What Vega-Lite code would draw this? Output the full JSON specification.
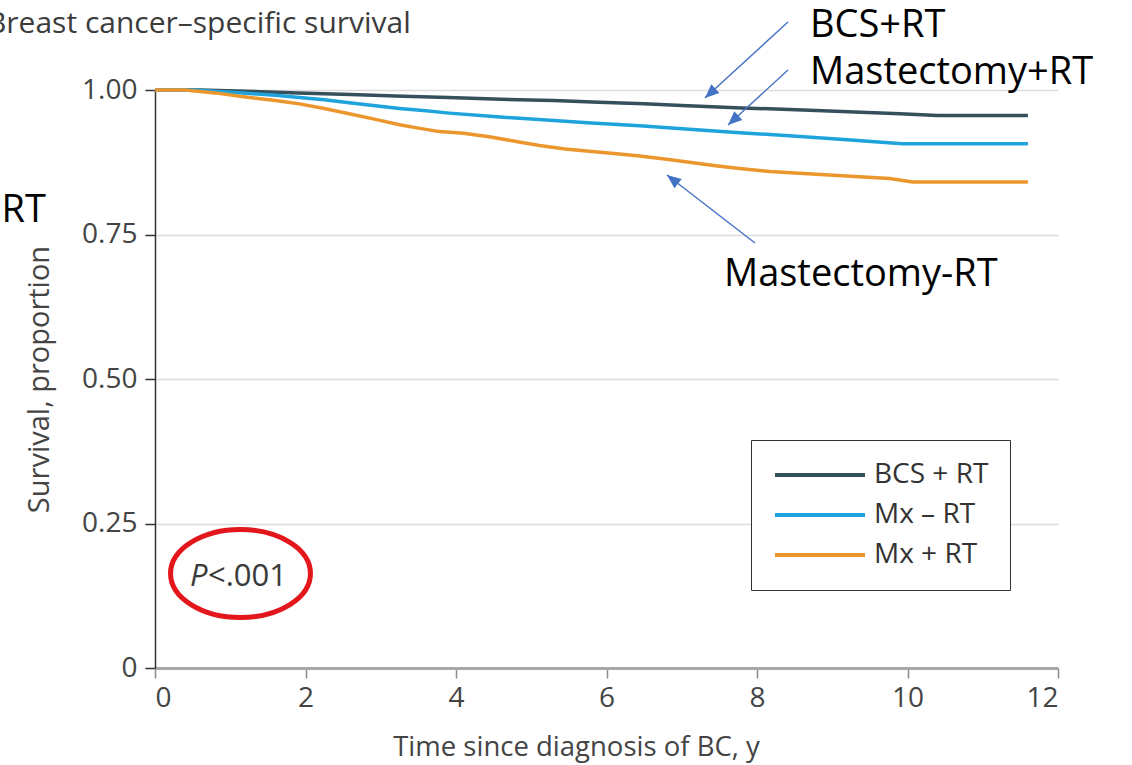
{
  "$schema": "https://vega.github.io/schema/vega-lite/v6.json",
  "autosize": "none",
  "width": 903,
  "height": 578,
  "padding": {"left": 155, "top": 90, "right": 74, "bottom": 97},
  "background": "white",
  "config": {
    "view": {"stroke": null},
    "font": "Open Sans"
  },
  "datasets": {
    "curves": [
      {"group": "BCS + RT", "t": 0, "s": 1.0},
      {"group": "BCS + RT", "t": 0.6, "s": 1.0},
      {"group": "BCS + RT", "t": 1.2, "s": 0.998},
      {"group": "BCS + RT", "t": 1.9, "s": 0.995},
      {"group": "BCS + RT", "t": 2.6, "s": 0.992},
      {"group": "BCS + RT", "t": 3.3, "s": 0.989},
      {"group": "BCS + RT", "t": 3.9, "s": 0.987},
      {"group": "BCS + RT", "t": 4.6, "s": 0.984},
      {"group": "BCS + RT", "t": 5.3, "s": 0.982},
      {"group": "BCS + RT", "t": 5.9, "s": 0.979},
      {"group": "BCS + RT", "t": 6.5, "s": 0.976},
      {"group": "BCS + RT", "t": 7.0, "s": 0.973},
      {"group": "BCS + RT", "t": 7.8, "s": 0.969},
      {"group": "BCS + RT", "t": 8.7, "s": 0.965},
      {"group": "BCS + RT", "t": 9.3, "s": 0.962},
      {"group": "BCS + RT", "t": 9.9, "s": 0.959},
      {"group": "BCS + RT", "t": 10.4, "s": 0.956},
      {"group": "BCS + RT", "t": 11.6, "s": 0.956},
      {"group": "Mx – RT", "t": 0, "s": 1.0},
      {"group": "Mx – RT", "t": 0.5, "s": 1.0},
      {"group": "Mx – RT", "t": 0.9, "s": 0.997},
      {"group": "Mx – RT", "t": 1.26, "s": 0.994},
      {"group": "Mx – RT", "t": 1.6, "s": 0.991},
      {"group": "Mx – RT", "t": 1.92, "s": 0.987},
      {"group": "Mx – RT", "t": 2.25, "s": 0.983},
      {"group": "Mx – RT", "t": 2.58, "s": 0.978},
      {"group": "Mx – RT", "t": 2.9, "s": 0.973},
      {"group": "Mx – RT", "t": 3.25, "s": 0.968},
      {"group": "Mx – RT", "t": 3.6, "s": 0.964},
      {"group": "Mx – RT", "t": 3.91, "s": 0.960},
      {"group": "Mx – RT", "t": 4.5, "s": 0.954},
      {"group": "Mx – RT", "t": 5.1, "s": 0.949},
      {"group": "Mx – RT", "t": 5.8, "s": 0.943},
      {"group": "Mx – RT", "t": 6.44, "s": 0.938},
      {"group": "Mx – RT", "t": 7.1, "s": 0.932},
      {"group": "Mx – RT", "t": 7.77, "s": 0.926},
      {"group": "Mx – RT", "t": 8.43, "s": 0.921},
      {"group": "Mx – RT", "t": 9.2, "s": 0.914},
      {"group": "Mx – RT", "t": 9.93, "s": 0.907},
      {"group": "Mx – RT", "t": 10.5, "s": 0.907},
      {"group": "Mx – RT", "t": 11.6, "s": 0.907},
      {"group": "Mx + RT", "t": 0, "s": 1.0},
      {"group": "Mx + RT", "t": 0.4, "s": 1.0},
      {"group": "Mx + RT", "t": 0.8, "s": 0.995},
      {"group": "Mx + RT", "t": 1.2, "s": 0.988},
      {"group": "Mx + RT", "t": 1.6, "s": 0.982},
      {"group": "Mx + RT", "t": 1.92, "s": 0.976},
      {"group": "Mx + RT", "t": 2.25, "s": 0.968},
      {"group": "Mx + RT", "t": 2.58, "s": 0.959},
      {"group": "Mx + RT", "t": 2.9, "s": 0.950},
      {"group": "Mx + RT", "t": 3.25, "s": 0.940},
      {"group": "Mx + RT", "t": 3.5, "s": 0.934},
      {"group": "Mx + RT", "t": 3.78, "s": 0.928},
      {"group": "Mx + RT", "t": 4.1, "s": 0.925},
      {"group": "Mx + RT", "t": 4.44, "s": 0.919},
      {"group": "Mx + RT", "t": 4.8, "s": 0.911},
      {"group": "Mx + RT", "t": 5.11, "s": 0.904},
      {"group": "Mx + RT", "t": 5.45, "s": 0.898},
      {"group": "Mx + RT", "t": 5.77, "s": 0.894},
      {"group": "Mx + RT", "t": 6.1, "s": 0.890},
      {"group": "Mx + RT", "t": 6.44, "s": 0.886},
      {"group": "Mx + RT", "t": 6.8, "s": 0.880},
      {"group": "Mx + RT", "t": 7.1, "s": 0.875},
      {"group": "Mx + RT", "t": 7.45, "s": 0.869},
      {"group": "Mx + RT", "t": 7.77, "s": 0.864},
      {"group": "Mx + RT", "t": 8.17, "s": 0.859},
      {"group": "Mx + RT", "t": 8.56, "s": 0.856},
      {"group": "Mx + RT", "t": 8.96, "s": 0.853},
      {"group": "Mx + RT", "t": 9.36, "s": 0.850},
      {"group": "Mx + RT", "t": 9.76, "s": 0.847},
      {"group": "Mx + RT", "t": 10.07, "s": 0.841},
      {"group": "Mx + RT", "t": 10.5, "s": 0.841},
      {"group": "Mx + RT", "t": 11.6, "s": 0.841}
    ],
    "notes": [
      {"label": "Breast cancer–specific survival", "kind": "heading", "t": -2.233, "s": 1.0986},
      {"label": "BCS+RT", "kind": "callout", "t": 8.704, "s": 1.0918},
      {"label": "Mastectomy+RT", "kind": "callout", "t": 8.704, "s": 1.0104},
      {"label": "Mastectomy-RT", "kind": "callout", "t": 7.561, "s": 0.6609},
      {"label": "RT", "kind": "edge", "t": -1.449, "s": 0.7716}
    ],
    "arrows": [
      {"id": "bcs", "t0": 8.412, "s0": 1.1176, "t1": 7.309, "s1": 0.9862},
      {"id": "mxplus", "t0": 8.412, "s0": 1.0346, "t1": 7.615, "s1": 0.9394},
      {"id": "mxminus", "t0": 7.973, "s0": 0.7353, "t1": 6.804, "s1": 0.8529}
    ],
    "pvalue": [
      {"t": 1.136, "s": 0.1635, "p": "P", "rest": "<.001", "tp": 0.465, "tr": 0.704, "sb": 0.1419}
    ]
  },
  "encoding": {
    "x": {
      "field": "t",
      "type": "quantitative",
      "scale": {"domain": [0, 12], "nice": false, "zero": false},
      "axis": {
        "values": [0, 2, 4, 6, 8, 10, 12],
        "format": "d",
        "title": "Time since diagnosis of BC, y",
        "grid": false,
        "domainColor": "#a8a8a8",
        "domainWidth": 3,
        "tickColor": "#8a8a8a",
        "tickWidth": 1.5,
        "tickSize": 10,
        "labelFont": "Open Sans",
        "labelFontSize": 28,
        "labelColor": "#444444",
        "labelPadding": 6,
        "titleFont": "Open Sans",
        "titleFontSize": 27.5,
        "titleFontWeight": "normal",
        "titleColor": "#444444",
        "titleX": 421,
        "titleY": 87,
        "titleBaseline": "alphabetic"
      }
    },
    "y": {
      "field": "s",
      "type": "quantitative",
      "scale": {"domain": [0, 1], "nice": false, "zero": false},
      "axis": {
        "values": [0, 0.25, 0.5, 0.75, 1],
        "labelExpr": "datum.value == 0 ? '0' : format(datum.value, '.2f')",
        "title": "Survival, proportion",
        "grid": true,
        "gridColor": "#dcdcdc",
        "gridWidth": 1.5,
        "domainColor": "#333333",
        "domainWidth": 1.5,
        "tickColor": "#333333",
        "tickWidth": 1.5,
        "tickSize": 10,
        "labelFont": "Open Sans",
        "labelFontSize": 28,
        "labelColor": "#444444",
        "labelPadding": 8,
        "titleFont": "Open Sans",
        "titleFontSize": 29,
        "titleFontWeight": "normal",
        "titleColor": "#444444",
        "titlePadding": 27
      }
    }
  },
  "layer": [
    {
      "data": {"name": "curves"},
      "mark": {"type": "line", "strokeWidth": 3.5, "interpolate": "linear"},
      "encoding": {
        "color": {
          "field": "group",
          "type": "nominal",
          "scale": {
            "domain": ["BCS + RT", "Mx – RT", "Mx + RT"],
            "range": ["#36505b", "#1fa3dd", "#ec962e"]
          },
          "legend": {
            "title": null,
            "orient": "none",
            "legendX": 596,
            "legendY": 350,
            "symbolType": "M-4.5,0L4.5,0",
            "symbolSize": 400,
            "symbolStrokeWidth": 4,
            "symbolFillColor": "transparent",
            "symbolOffset": 34,
            "labelFont": "Open Sans",
            "labelFontSize": 28,
            "labelColor": "#333333",
            "labelOffset": 40,
            "padding": 21,
            "rowPadding": 12,
            "strokeColor": "#333333",
            "fillColor": "white",
            "cornerRadius": 0
          }
        }
      }
    },
    {
      "data": {"name": "notes"},
      "transform": [{"filter": "datum.kind == 'heading'"}],
      "mark": {"type": "text", "align": "left", "baseline": "alphabetic", "font": "Open Sans", "fontSize": 30, "color": "#3c3c3c"},
      "encoding": {"text": {"field": "label"}}
    },
    {
      "data": {"name": "notes"},
      "transform": [{"filter": "datum.kind == 'callout'"}],
      "mark": {"type": "text", "align": "left", "baseline": "alphabetic", "font": "Open Sans", "fontSize": 38, "color": "#000000"},
      "encoding": {"text": {"field": "label"}}
    },
    {
      "data": {"name": "notes"},
      "transform": [{"filter": "datum.kind == 'edge'"}],
      "mark": {"type": "text", "align": "right", "baseline": "alphabetic", "font": "Open Sans", "fontSize": 38, "color": "#000000"},
      "encoding": {"text": {"field": "label"}}
    },
    {
      "data": {"name": "arrows"},
      "mark": {"type": "rule", "color": "#4472c4", "strokeWidth": 1.4},
      "encoding": {
        "x": {"field": "t0", "type": "quantitative"},
        "y": {"field": "s0", "type": "quantitative"},
        "x2": {"field": "t1"},
        "y2": {"field": "s1"}
      }
    },
    {
      "data": {"name": "arrows"},
      "transform": [{"filter": "datum.id != 'mxminus'"}],
      "mark": {"type": "point", "shape": "M0,0L-0.85,2L0.85,2Z", "size": 196, "filled": true, "color": "#4472c4", "opacity": 1, "angle": 227.5},
      "encoding": {
        "x": {"field": "t1", "type": "quantitative"},
        "y": {"field": "s1", "type": "quantitative"}
      }
    },
    {
      "data": {"name": "arrows"},
      "transform": [{"filter": "datum.id == 'mxminus'"}],
      "mark": {"type": "point", "shape": "M0,0L-0.85,2L0.85,2Z", "size": 196, "filled": true, "color": "#4472c4", "opacity": 1, "angle": 307.7},
      "encoding": {
        "x": {"field": "t1", "type": "quantitative"},
        "y": {"field": "s1", "type": "quantitative"}
      }
    },
    {
      "data": {"name": "pvalue"},
      "mark": {"type": "point", "shape": "M-1.59,0A1.59,1 0 1,1 1.59,0A1.59,1 0 1,1 -1.59,0Z", "size": 7744, "filled": false, "stroke": "#e3161c", "strokeWidth": 5, "opacity": 1},
      "encoding": {
        "x": {"field": "t", "type": "quantitative"},
        "y": {"field": "s", "type": "quantitative"}
      }
    },
    {
      "data": {"name": "pvalue"},
      "mark": {"type": "text", "align": "left", "baseline": "alphabetic", "font": "Open Sans", "fontSize": 31, "fontStyle": "italic", "color": "#3a3a3a"},
      "encoding": {
        "x": {"field": "tp", "type": "quantitative"},
        "y": {"field": "sb", "type": "quantitative"},
        "text": {"field": "p"}
      }
    },
    {
      "data": {"name": "pvalue"},
      "mark": {"type": "text", "align": "left", "baseline": "alphabetic", "font": "Open Sans", "fontSize": 31, "color": "#3a3a3a"},
      "encoding": {
        "x": {"field": "tr", "type": "quantitative"},
        "y": {"field": "sb", "type": "quantitative"},
        "text": {"field": "rest"}
      }
    }
  ]
}
